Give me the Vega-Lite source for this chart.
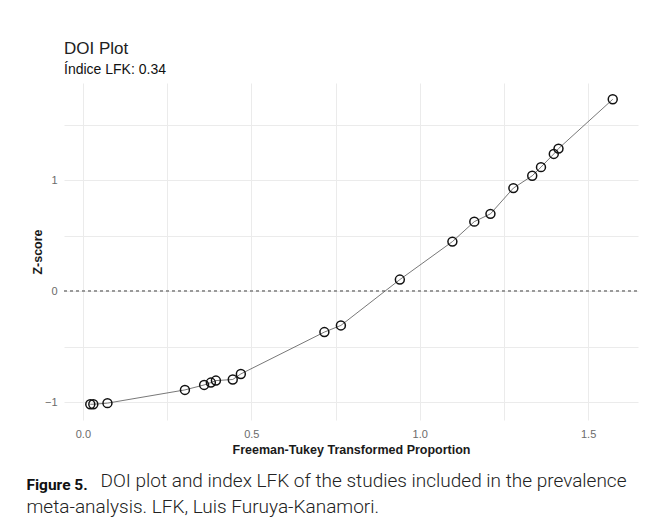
{
  "$schema": "https://vega.github.io/schema/vega-lite/v6.json",
  "background": "white",
  "padding": {"left": 26, "top": 40, "right": 0, "bottom": 0},
  "title": {
    "text": "Figure 5.",
    "subtitle": ["\u200b\u00a0\u00a0\u00a0\u00a0\u00a0\u00a0\u00a0\u00a0\u00a0\u00a0\u00a0\u00a0\u00a0\u00a0\u00a0\u00a0DOI plot and index LFK of the studies included in the prevalence", "meta-analysis. LFK, Luis Furuya-Kanamori."],
    "orient": "bottom",
    "anchor": "start",
    "frame": "bounds",
    "font": "Roboto",
    "fontSize": 15.5,
    "fontWeight": "bold",
    "color": "#111111",
    "subtitleFont": "Roboto",
    "subtitleFontSize": 19,
    "subtitleFontWeight": 300,
    "subtitleColor": "#222222",
    "subtitleLineHeight": 26,
    "subtitlePadding": -21,
    "offset": 22,
    "dx": -5
  },
  "vconcat": [
    {
      "title": {
        "text": "DOI Plot",
        "subtitle": "Índice LFK: 0.34",
        "anchor": "start",
        "frame": "group",
        "font": "Liberation Sans",
        "fontSize": 17,
        "fontWeight": "normal",
        "color": "#222222",
        "subtitleFont": "Liberation Sans",
        "subtitleFontSize": 14,
        "subtitleColor": "#111111",
        "subtitlePadding": 5,
        "offset": 5
      },
      "width": 574,
      "height": 337,
      "data": {
        "values": [
          {"ft": 0.022, "z": -1.02},
          {"ft": 0.031, "z": -1.02},
          {"ft": 0.073, "z": -1.01},
          {"ft": 0.303, "z": -0.891},
          {"ft": 0.360, "z": -0.846},
          {"ft": 0.380, "z": -0.825},
          {"ft": 0.395, "z": -0.807},
          {"ft": 0.445, "z": -0.797},
          {"ft": 0.469, "z": -0.747},
          {"ft": 0.717, "z": -0.370},
          {"ft": 0.766, "z": -0.310},
          {"ft": 0.941, "z": 0.103},
          {"ft": 1.097, "z": 0.445},
          {"ft": 1.162, "z": 0.625},
          {"ft": 1.210, "z": 0.695},
          {"ft": 1.278, "z": 0.927},
          {"ft": 1.334, "z": 1.038},
          {"ft": 1.360, "z": 1.116},
          {"ft": 1.398, "z": 1.235},
          {"ft": 1.412, "z": 1.283},
          {"ft": 1.573, "z": 1.727}
        ]
      },
      "encoding": {
        "x": {
          "field": "ft",
          "type": "quantitative",
          "scale": {"domain": [-0.056, 1.648], "nice": false, "zero": false},
          "axis": {
            "title": "Freeman-Tukey Transformed Proportion",
            "values": [0, 0.25, 0.5, 0.75, 1, 1.25, 1.5],
            "labelExpr": "(datum.value * 2) % 1 === 0 ? format(datum.value, '.1f') : ''",
            "labelPadding": 8,
            "titlePadding": 4
          }
        },
        "y": {
          "field": "z",
          "type": "quantitative",
          "scale": {"domain": [-1.162, 1.874], "nice": false, "zero": false},
          "axis": {
            "title": "Z-score",
            "values": [-1, -0.5, 0, 0.5, 1, 1.5],
            "labelExpr": "datum.value % 1 === 0 ? format(datum.value, 'd') : ''",
            "labelPadding": 7,
            "titlePadding": 0
          }
        }
      },
      "layer": [
        {
          "mark": {"type": "rule", "color": "#9a9a9a", "strokeWidth": 0.9, "strokeDash": [3, 3]},
          "encoding": {"y": {"datum": 0}, "x": {"value": 0}, "x2": {"value": 574}}
        },
        {
          "mark": {"type": "line", "color": "#555555", "strokeWidth": 0.8},
          "encoding": {"order": {"field": "ft"}}
        },
        {
          "mark": {"type": "point", "shape": "circle", "filled": false, "color": "#111111", "strokeWidth": 1.5, "size": 80, "opacity": 1}
        }
      ]
    }
  ],
  "config": {
    "view": {"stroke": null},
    "axis": {
      "domain": false,
      "ticks": false,
      "grid": true,
      "gridColor": "#ebebeb",
      "gridWidth": 1,
      "labelFont": "Liberation Sans",
      "labelFontSize": 11,
      "labelColor": "#6b6b6b",
      "titleFont": "Liberation Sans",
      "titleFontSize": 12.5,
      "titleFontWeight": "bold",
      "titleColor": "#1a1a1a"
    }
  }
}
